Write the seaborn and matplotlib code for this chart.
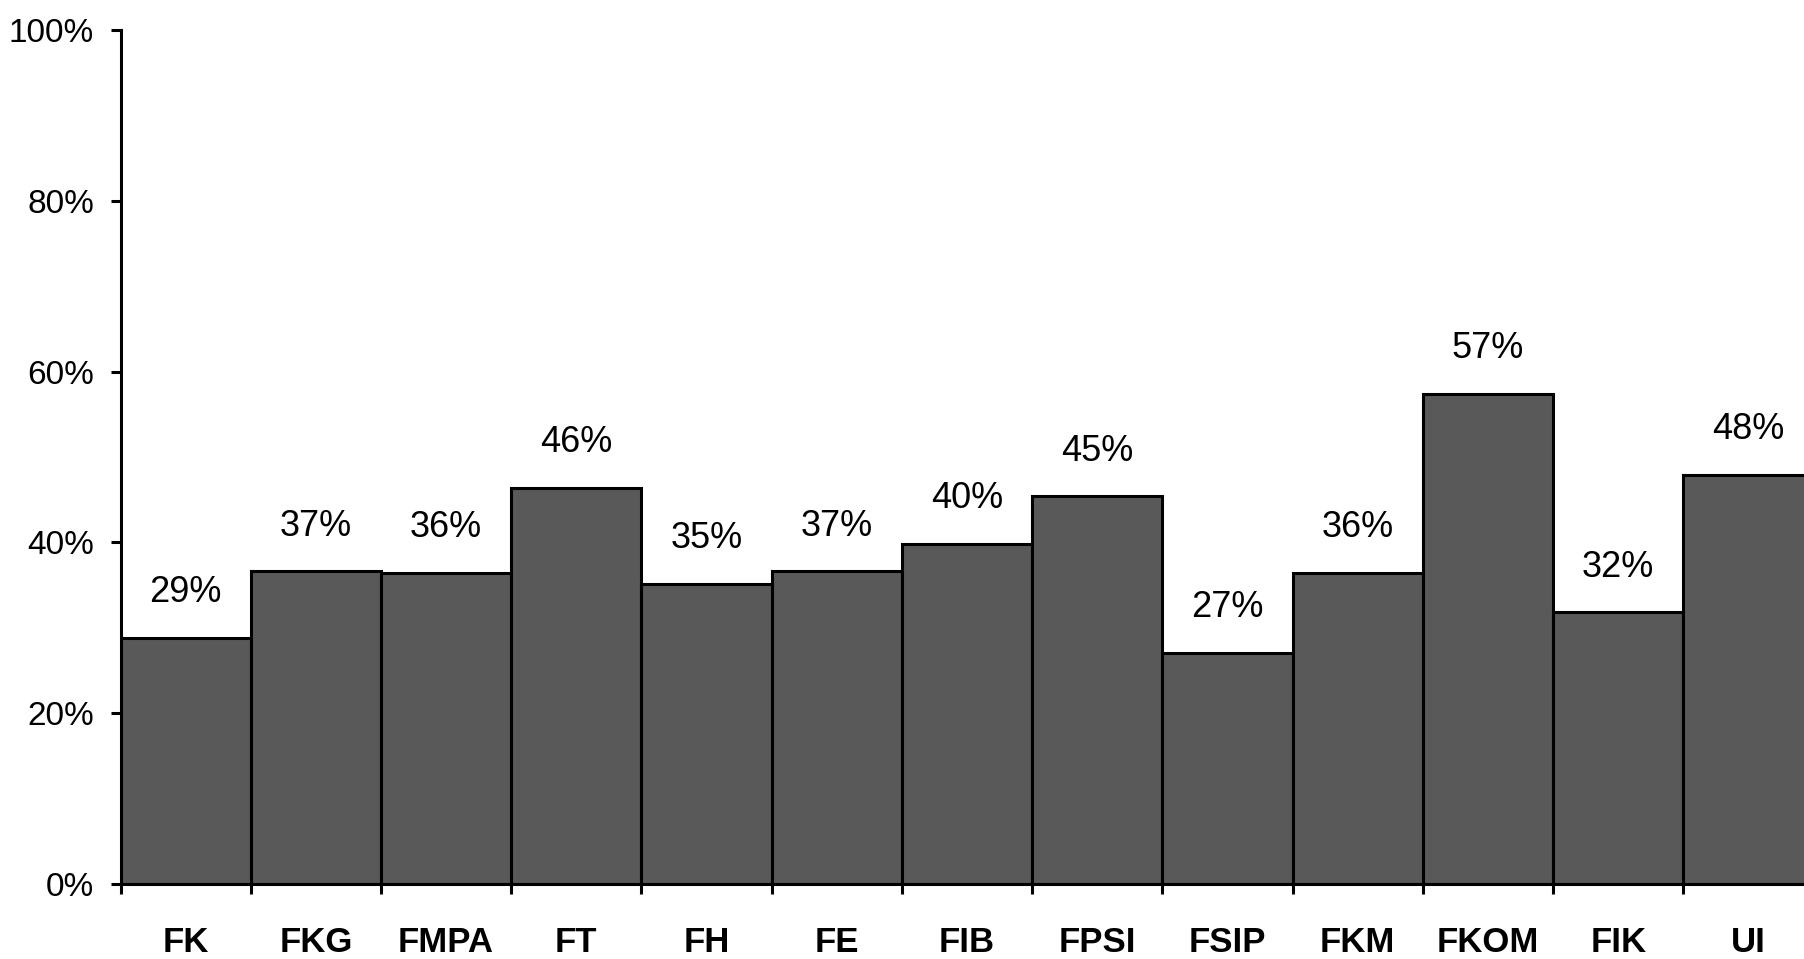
import matplotlib
matplotlib.use("Agg")
import matplotlib.pyplot as plt
import seaborn as sns
from matplotlib.ticker import FuncFormatter, FixedLocator

# Share of respondents per faculty (percent)
faculties = ["FK", "FKG", "FMPA", "FT", "FH", "FE", "FIB", "FPSI",
             "FSIP", "FKM", "FKOM", "FIK", "UI"]
shares = [28.8, 36.6, 36.4, 46.4, 35.1, 36.6, 39.8, 45.4,
          27.1, 36.4, 57.4, 31.8, 47.9]
y_ticks = [0, 20, 40, 60, 80, 100]

sns.set_style("white")
plt.rcParams["font.family"] = ["Liberation Sans Narrow", "Liberation Sans", "DejaVu Sans"]
plt.rcParams["text.color"] = "black"
plt.rcParams["xtick.color"] = "black"
plt.rcParams["ytick.color"] = "black"
plt.rcParams["xtick.labelcolor"] = "black"
plt.rcParams["ytick.labelcolor"] = "black"

fig = plt.figure(figsize=(18.04, 9.59), dpi=100)
# axes run past the right edge of the canvas so the last bar is clipped
ax = fig.add_axes([0.0668, 0.0782, 0.9385, 0.8905])

sns.barplot(x=faculties, y=shares, color="#595959", saturation=1,
            edgecolor="black", linewidth=2.2, width=1.0,
            errorbar=None, ax=ax)

ax.set_xlim(-0.5, len(faculties) - 0.5)
ax.set_ylim(0, 100)
ax.set_yticks(y_ticks)
ax.yaxis.set_major_formatter(FuncFormatter(lambda v, _: f"{v:.0f}%"))

# category names centred, tick marks on the boundaries between bars
ax.set_xticks(range(len(faculties)))
ax.set_xticklabels(faculties, fontweight="bold", fontsize=25)
ax.xaxis.set_minor_locator(FixedLocator([i - 0.5 for i in range(len(faculties) + 1)]))
ax.tick_params(axis="x", which="major", length=0, pad=30)
ax.tick_params(axis="x", which="minor", length=7, width=2.2, color="black",
               direction="out", bottom=True)
ax.tick_params(axis="y", which="major", length=7, width=2.2, color="black",
               direction="out", left=True, labelsize=24, pad=12)

for side in ("top", "right"):
    ax.spines[side].set_visible(False)
for side in ("left", "bottom"):
    ax.spines[side].set_color("black")
    ax.spines[side].set_linewidth(2.2)

ax.set_xlabel("")
ax.set_ylabel("")

ax.bar_label(ax.containers[0], labels=[f"{round(v)}%" for v in shares],
             padding=20, fontsize=26, color="black")

fig.savefig("out.png", dpi=100)
